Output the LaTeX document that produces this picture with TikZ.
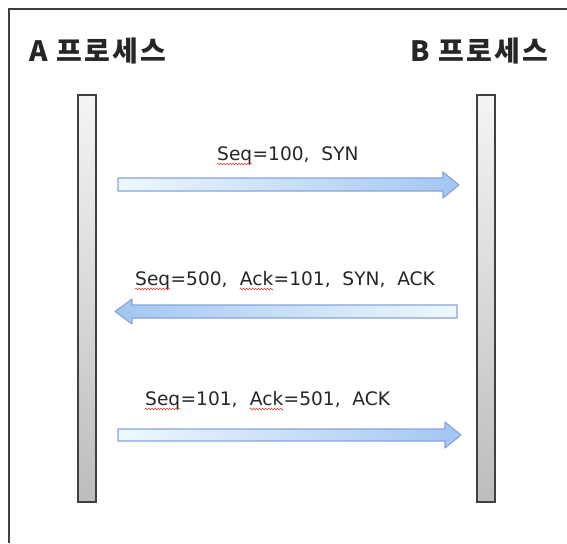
\documentclass[tikz,border=0pt]{standalone}
\usepackage{fontspec}
\setmainfont{DejaVu Sans}
\newfontfamily\kr{Noto Sans CJK KR}[LetterSpace=8]
\usetikzlibrary{decorations.pathmorphing}
\definecolor{frameC}{HTML}{404040}
\definecolor{lifeTop}{HTML}{F4F4F4}
\definecolor{lifeBot}{HTML}{BDBDBD}
\definecolor{arrLine}{HTML}{86A4D8}
\definecolor{arrLight}{HTML}{EEF8FE}
\definecolor{arrDark}{HTML}{A2C6F2}
\definecolor{spellC}{HTML}{E03030}
\tikzset{
  lifeline/.style={draw=frameC, line width=1.3pt, top color=lifeTop, bottom color=lifeBot, rectangle, inner sep=0pt, minimum width=18pt, minimum height=407pt},
  blockarrow/.style={draw=arrLine, line width=1.1pt, line join=round},
  msg/.style={anchor=base west, inner sep=0pt, font=\fontsize{18.6}{21}\selectfont, text=black!85},
  title/.style={anchor=base west, inner sep=0pt, font=\kr\bfseries\fontsize{28}{31}\selectfont, text=black!85},
  spell/.style={draw=spellC, line width=0.5pt, decorate, decoration={snake, amplitude=0.9pt, segment length=3pt}}
}
\newcommand\wavy[1]{\draw[spell] ([yshift=-4pt]#1.base west) -- ([yshift=-4pt]#1.base east);}
\begin{document}
\begin{tikzpicture}[x=1pt, y=-1pt]
\useasboundingbox (0,0) rectangle (567,543);
\fill[white] (0,0) rectangle (567,543);
% frame (top and left edges visible)
\draw[frameC, line width=1.2pt] (9,543) -- (9,9) -- (567,9);
% titles
\node[title] (ta) at (29,62) {A 프로세스};
\node[title] (tb) at (410,62) {B 프로세스};
% lifelines
\node[lifeline] (la) at (87,298.5) {};
\node[lifeline] (lb) at (486,298.5) {};
% arrow 1
\path[blockarrow, left color=arrLight, right color=arrDark]
  (118,178) -- (443,178) -- (443,172) -- (459,185) -- (443,198) -- (443,191) -- (118,191) -- cycle;
\node[msg] (m1a) at (217,160) {Seq};
\node[msg] (m1b) at (m1a.base east) {=100,\ \ SYN};
\wavy{m1a}
% arrow 2
\path[blockarrow, left color=arrDark, right color=arrLight]
  (457,305) -- (132,305) -- (132,299) -- (115,311.5) -- (132,324) -- (132,318) -- (457,318) -- cycle;
\node[msg] (m2a) at (135,285) {Seq};
\node[msg] (m2b) at (m2a.base east) {=500,\ \ \mbox{}};
\node[msg] (m2c) at (m2b.base east) {Ack};
\node[msg] (m2d) at (m2c.base east) {=101,\ \ SYN,\ \ ACK};
\wavy{m2a}
\wavy{m2c}
% arrow 3
\path[blockarrow, left color=arrLight, right color=arrDark]
  (118,429) -- (445,429) -- (445,422) -- (461,435) -- (445,448) -- (445,441) -- (118,441) -- cycle;
\node[msg] (m3a) at (145,405) {Seq};
\node[msg] (m3b) at (m3a.base east) {=101,\ \ \mbox{}};
\node[msg] (m3c) at (m3b.base east) {Ack};
\node[msg] (m3d) at (m3c.base east) {=501,\ \ ACK};
\wavy{m3a}
\wavy{m3c}
\end{tikzpicture}
\end{document}
